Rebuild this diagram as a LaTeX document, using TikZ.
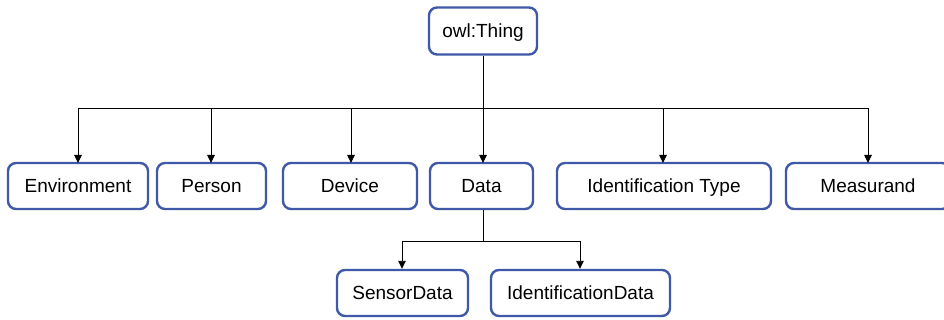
\documentclass[tikz,border=0pt]{standalone}
\usepackage{fontspec}
\setmainfont{Liberation Sans}
\usetikzlibrary{arrows.meta}
\definecolor{boxblue}{HTML}{3F58A8}
\tikzset{
  cls/.style={draw=boxblue, line width=2.4pt, rounded corners=8pt, fill=white,
    minimum height=46pt, inner sep=0pt, text height=13.6pt, text depth=0pt,
    font=\fontsize{19}{22}\selectfont},
  link/.style={draw=black, line width=0.9pt},
  arr/.style={link, -{Triangle[length=8pt,width=7.5pt]}}
}
\begin{document}
\begin{tikzpicture}[x=1pt, y=-1pt]
  \useasboundingbox (0,0) rectangle (944,320);
  % root class
  \node[cls, minimum width=108pt, minimum height=47pt] (thing) at (483,31) {owl:Thing};
  % first level
  \node[cls, minimum width=140pt] (env)  at (78,186)    {Environment};
  \node[cls, minimum width=109pt] (pers) at (211.5,186) {Person};
  \node[cls, minimum width=134pt] (dev)  at (350,186)   {Device};
  \node[cls, minimum width=103pt] (data) at (481.5,186) {Data};
  \node[cls, minimum width=214pt] (idt)  at (664,186)   {Identification Type};
  \node[cls, minimum width=164pt] (meas) at (868,186)   {Measurand};
  % second level
  \node[cls, minimum width=131pt] (sens) at (402.5,293) {SensorData};
  \node[cls, minimum width=179pt] (idd)  at (580.5,293) {IdentificationData};
  % bus below the root
  \coordinate (busL) at (78,108);
  \coordinate (busR) at (868,108);
  \coordinate (busM) at (483,108);
  \draw[link] (thing.south -| busM) -- (busM);
  \draw[link] (busL) -- (busR);
  \foreach \n/\x in {env/78, pers/211, dev/351, data/483, idt/663, meas/868}
    \draw[arr] (\x,108) -- (\x,163);
  % bus below Data
  \coordinate (dbus) at (483,241);
  \draw[link] (data.south -| dbus) -- (dbus);
  \draw[link] (402,241) -- (580,241);
  \draw[arr] (402,241) -- (sens.north -| 402,0);
  \draw[arr] (580,241) -- (idd.north -| 580,0);
\end{tikzpicture}
\end{document}
